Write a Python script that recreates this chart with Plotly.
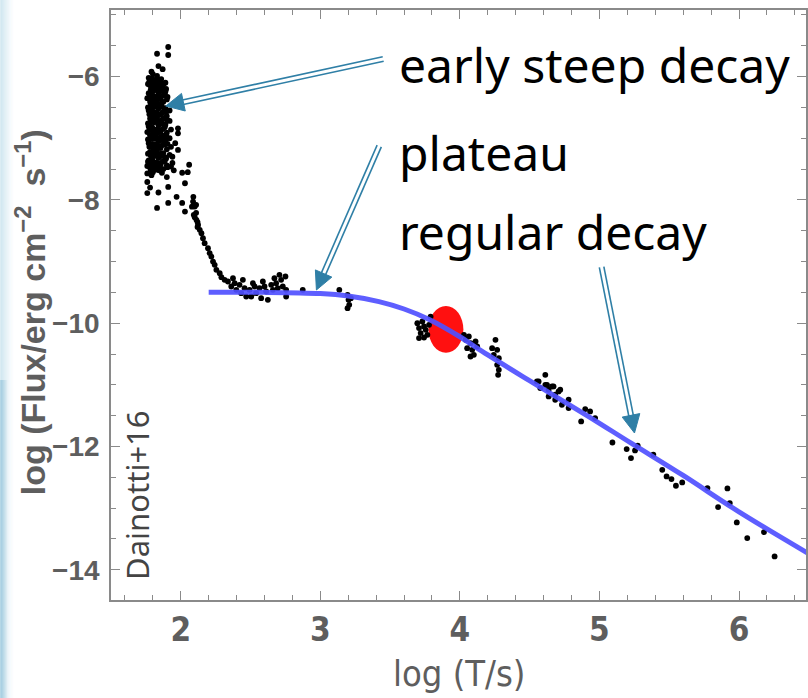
import plotly.graph_objects as go

# ---------------- data ----------------
# early steep decay (dense cluster + tail)
early_x = [1.91, 1.91, 1.83, 1.84, 1.79, 1.87,
           1.77, 1.78, 1.77, 1.78, 1.77, 1.78, 1.77, 1.78, 1.77, 1.78, 1.77, 1.78,
           1.80, 1.80, 1.81, 1.80, 1.81, 1.80, 1.81, 1.80, 1.81, 1.80, 1.81, 1.80, 1.80,
           1.83, 1.83, 1.84, 1.83, 1.84, 1.83, 1.84, 1.83, 1.84, 1.83, 1.84, 1.83,
           1.86, 1.86, 1.87, 1.86, 1.87, 1.86, 1.87, 1.86, 1.87, 1.86, 1.87,
           1.89, 1.89, 1.90, 1.89, 1.90, 1.89, 1.90, 1.89, 1.90, 1.89, 1.90,
           1.92, 1.92, 1.93, 1.92, 1.93, 1.92, 1.94, 1.95,
           1.76, 1.76, 1.76, 1.79, 1.82, 1.85, 1.88, 1.82, 1.85, 1.79,
           1.98, 1.98, 2.06, 2.05, 1.98, 1.96, 1.94, 2.01, 2.03, 1.93, 1.90, 1.91,
           1.97, 2.01, 2.08, 2.10, 2.12, 1.76, 1.76, 1.78, 1.76, 1.84, 1.83, 1.91,
           2.03, 2.09, 2.11, 2.11, 2.12,
           1.775, 1.785, 1.775, 1.785, 1.775, 1.785, 1.775, 1.785, 1.775, 1.785, 1.775, 1.785,
           1.795, 1.805, 1.795, 1.805, 1.795, 1.805, 1.795, 1.805, 1.795, 1.805, 1.795, 1.805,
           1.815, 1.825, 1.815, 1.825, 1.815, 1.825, 1.815, 1.825, 1.815, 1.825, 1.815, 1.825,
           1.835, 1.845, 1.835, 1.845, 1.835, 1.845, 1.835, 1.845, 1.835, 1.845, 1.835, 1.845,
           1.855, 1.865, 1.855, 1.865, 1.855, 1.865, 1.855, 1.865, 1.855, 1.865, 1.855, 1.865,
           1.875, 1.885, 1.875, 1.885, 1.875, 1.885, 1.875, 1.885, 1.875, 1.885, 1.875,
           1.895, 1.905, 1.895, 1.905, 1.895, 1.905, 1.895, 1.905,
           1.765, 1.765, 1.765, 1.765, 1.765, 1.765]
early_y = [-5.52, -5.65, -5.63, -5.83, -5.92, -5.88,
           -6.02, -6.14, -6.27, -6.41, -6.55, -6.68, -6.81, -6.95, -7.08, -7.22, -7.36, -7.48,
           -5.96, -6.09, -6.22, -6.35, -6.49, -6.62, -6.74, -6.88, -7.01, -7.15, -7.29, -7.42, -7.55,
           -5.99, -6.12, -6.26, -6.39, -6.52, -6.66, -6.79, -6.92, -7.05, -7.19, -7.32, -7.45,
           -6.04, -6.17, -6.31, -6.44, -6.58, -6.71, -6.85, -6.98, -7.11, -7.25, -7.38,
           -6.10, -6.24, -6.37, -6.51, -6.64, -6.78, -6.91, -7.04, -7.18, -7.31, -7.44,
           -6.55, -6.72, -6.86, -7.00, -7.14, -7.27, -7.40, -7.52,
           -6.35, -6.90, -7.45, -6.47, -6.58, -6.90, -6.67, -7.10, -7.50, -7.60,
           -6.84, -6.92, -7.43, -7.55, -7.19, -7.08, -7.30, -7.56, -7.73, -7.46, -7.63, -7.79,
           -7.95, -8.05, -8.11, -8.28, -8.44, -7.57, -7.71, -7.80, -7.89, -7.88, -8.13, -8.05,
           -8.19, -7.95, -8.08, -8.21, -8.36,
           -6.08, -6.21, -6.34, -6.47, -6.61, -6.74, -6.87, -7.01, -7.14, -7.28, -7.41, -7.53,
           -6.03, -6.16, -6.29, -6.42, -6.55, -6.69, -6.82, -6.95, -7.09, -7.22, -7.35, -7.48,
           -6.06, -6.19, -6.32, -6.46, -6.59, -6.72, -6.86, -6.99, -7.12, -7.26, -7.39, -7.51,
           -6.05, -6.18, -6.33, -6.46, -6.60, -6.73, -6.86, -7.00, -7.13, -7.26, -7.40, -7.52,
           -6.09, -6.22, -6.36, -6.49, -6.62, -6.76, -6.89, -7.03, -7.16, -7.29, -7.43, -7.56,
           -6.13, -6.27, -6.41, -6.54, -6.69, -6.82, -6.96, -7.10, -7.24, -7.37, -7.50,
           -6.20, -6.33, -6.58, -6.71, -6.96, -7.09, -7.33, -7.47,
           -6.12, -6.50, -6.76, -7.02, -7.25, -7.38]

# steep decay into the plateau
plateau_x = [2.088, 2.100, 2.093, 2.112, 2.124, 2.136, 2.148, 2.159, 2.171, 2.195,
             2.207, 2.219, 2.231, 2.243, 2.255, 2.279, 2.291, 2.314,
             2.338, 2.362, 2.386, 2.398, 2.421, 2.433, 2.457, 2.469, 2.493, 2.505,
             2.529, 2.540, 2.564, 2.576, 2.600, 2.612, 2.624, 2.648, 2.660, 2.683,
             2.695, 2.719, 2.731, 2.755, 2.755, 2.750, 2.374, 2.445, 2.517, 2.588,
             2.671, 2.707, 2.874, 3.136, 3.195, 3.202, 3.207, 3.195, 3.219]
plateau_y = [-8.027, -8.108, -8.243, -8.324, -8.405, -8.486, -8.540, -8.621, -8.702, -8.783,
             -8.864, -8.919, -9.000, -9.053, -9.134, -9.188, -9.253, -9.297,
             -9.324, -9.405, -9.351, -9.459, -9.378, -9.513, -9.432, -9.567, -9.459, -9.567,
             -9.405, -9.513, -9.432, -9.594, -9.405, -9.486, -9.621, -9.378, -9.459, -9.351,
             -9.432, -9.297, -9.405, -9.459, -9.567, -9.243, -9.270, -9.297, -9.351, -9.324,
             -9.270, -9.216, -9.459, -9.459, -9.540, -9.621, -9.702, -9.756, -9.594]

# regular decay
decay_x = [3.695, 3.707, 3.731, 3.743, 3.719, 3.755, 3.767, 3.779, 3.707, 3.743, 3.790,
           4.029, 4.041, 4.064, 4.076, 4.052, 4.088, 4.100, 4.112, 4.124, 4.076,
           4.255, 4.231, 4.267, 4.243, 4.279, 4.267, 4.279, 4.274,
           4.612, 4.552, 4.576, 4.612, 4.636, 4.660, 4.683, 4.707,
           4.564, 4.624, 4.671, 4.719, 4.636, 4.683, 4.731, 4.779, 4.779,
           4.898, 4.933, 4.969, 4.869, 5.093, 5.195, 5.226, 5.255, 5.274, 5.386,
           5.450, 5.481, 5.516, 5.548, 5.593, 5.774, 5.917, 5.934, 5.850, 5.984,
           6.059, 6.179, 6.255]
decay_y = [-10.000, -10.080, -9.973, -10.054, -10.161, -10.108, -10.189, -10.027, -10.242, -10.232, -9.892,
           -10.189, -10.270, -10.216, -10.324, -10.405, -10.432, -10.513, -10.297, -10.378, -10.540,
           -10.270, -10.405, -10.432, -10.513, -10.567, -10.675, -10.756, -10.837,
           -10.837, -10.945, -11.053, -10.999, -11.080, -11.026, -11.161, -11.107,
           -10.945, -10.999, -11.026, -11.080, -11.188, -11.242, -11.323, -11.242, -11.377,
           -11.393, -11.432, -11.539, -11.594, -11.935, -12.042, -12.188, -12.064, -11.988, -12.134,
           -12.378, -12.486, -12.528, -12.637, -12.583, -12.674, -12.680, -12.918, -12.983, -13.232,
           -13.485, -13.388, -13.783]

# fitted model curve
curve_x = [2.20, 2.60, 3.00, 3.20, 3.42, 3.60, 3.78, 4.00, 4.14, 4.49, 4.92, 5.23, 5.60, 6.00, 6.50]
curve_y = [-9.50, -9.50, -9.52, -9.56, -9.65, -9.77, -9.94, -10.22, -10.43, -10.92, -11.51, -11.95, -12.47, -13.06, -13.74]

# end of plateau (red ellipse)
end_x = [3.90]
end_y = [-10.10]
end_halfwidth = [0.125]
end_halfheight = [0.38]

x_tick_vals = [2, 3, 4, 5, 6]
y_tick_vals = [-14, -12, -10, -8, -6]

labels = ["early steep decay", "plateau", "regular decay"]

# ---------------- layout geometry ----------------
W, H = 808, 698
ML, MR, MT, MB = 111, 0, 10, 98
XR = [1.5, 6.48]
YR = [-14.49, -4.92]
PW, PH = W - ML - MR, H - MT - MB
SX = PW / (XR[1] - XR[0])
SY = PH / (YR[1] - YR[0])


def p2d(px, py):
    return XR[0] + (px - ML) / SX, YR[1] - (py - MT) / SY


def ppx(px):
    return (px - ML) / PW


def ppy(py):
    return (H - MB - py) / PH


AXC = "#8a8a8a"
TXC = "#5e5e5e"
ARC = "#2f7fa6"
NARROW = "DejaVu Sans Condensed, Liberation Sans Narrow, Arial Narrow"

fig = go.Figure()

obs_x = early_x + plateau_x + decay_x
obs_y = early_y + plateau_y + decay_y
fig.add_trace(go.Scatter(x=obs_x, y=obs_y, mode="markers",
                         marker=dict(color="black", size=5.8, line=dict(width=0)),
                         hoverinfo="skip", showlegend=False))
fig.add_trace(go.Scatter(x=curve_x, y=curve_y, mode="lines",
                         line=dict(color="rgba(80,80,255,0.92)", width=5, shape="spline"),
                         hoverinfo="skip", showlegend=False))

shapes = []
# red ellipse at end of plateau
shapes.append(dict(type="circle", xref="x", yref="y", layer="below",
                   x0=end_x[0] - end_halfwidth[0], x1=end_x[0] + end_halfwidth[0],
                   y0=end_y[0] - end_halfheight[0], y1=end_y[0] + end_halfheight[0],
                   fillcolor="#ff1010", line=dict(width=0)))

# double-line arrows (tail pixel, tip pixel)
arrows = [((384, 59), (166, 106)),
          ((380, 146), (317, 290)),
          ((603, 267), (636, 433))]
for (tx, ty), (hx, hy) in arrows:
    dx, dy = hx - tx, hy - ty
    L = (dx * dx + dy * dy) ** 0.5
    ux, uy = dx / L, dy / L
    nx, ny = -uy, ux
    hl, hw, gap = 18, 9, 2.3
    bx, by = hx - ux * hl, hy - uy * hl
    for s in (1, -1):
        x0, y0 = p2d(tx + s * nx * gap, ty + s * ny * gap)
        x1, y1 = p2d(bx + ux * 3 + s * nx * gap, by + uy * 3 + s * ny * gap)
        shapes.append(dict(type="line", xref="x", yref="y", layer="above",
                           x0=x0, y0=y0, x1=x1, y1=y1,
                           line=dict(color=ARC, width=1.6)))
    p1 = p2d(hx, hy)
    p2 = p2d(bx + nx * hw, by + ny * hw)
    p3 = p2d(bx - nx * hw, by - ny * hw)
    path = "M %f,%f L %f,%f L %f,%f Z" % (p1[0], p1[1], p2[0], p2[1], p3[0], p3[1])
    shapes.append(dict(type="path", xref="x", yref="y", layer="above", path=path,
                       fillcolor=ARC, line=dict(color=ARC, width=1)))

# light blue strip on the far left edge
for i in range(14):
    a = 0.5 * (1 - i / 14) ** 1.5
    shapes.append(dict(type="rect", xref="paper", yref="paper", layer="below",
                       x0=ppx(i), x1=ppx(i + 1), y0=ppy(H), y1=ppy(0),
                       fillcolor="rgba(150,200,222,%.3f)" % a, line=dict(width=0)))
for i in range(7):
    a = 0.5 * (1 - i / 7)
    shapes.append(dict(type="rect", xref="paper", yref="paper", layer="below",
                       x0=ppx(i), x1=ppx(i + 1), y0=ppy(H), y1=ppy(380),
                       fillcolor="rgba(110,175,205,%.3f)" % a, line=dict(width=0)))

annotations = []
TXT_FONT = "Noto Sans, Open Sans, DejaVu Sans"
for lab, (px, py) in zip(labels, [(398, 64), (398, 152), (398, 231)]):
    annotations.append(dict(text=lab, xref="paper", yref="paper", x=ppx(px), y=ppy(py),
                            xanchor="left", yanchor="middle", showarrow=False,
                            font=dict(family=TXT_FONT, size=48, color="black")))
annotations.append(dict(text="Dainotti+16", xref="paper", yref="paper",
                        x=ppx(137), y=ppy(495), textangle=-90, showarrow=False,
                        xanchor="center", yanchor="middle",
                        font=dict(family=TXT_FONT, size=31, color="#444444")))
annotations.append(dict(text="log (Flux/erg cm<sup>−2</sup>  s<sup>−1</sup>)",
                        xref="paper", yref="paper", x=ppx(31), y=ppy(312),
                        textangle=-90, showarrow=False, xanchor="center", yanchor="middle",
                        font=dict(family="Liberation Sans, Arial", size=34, color=TXC,
                                  weight="bold")))
annotations.append(dict(text="log (T/s)", xref="paper", yref="paper",
                        x=ppx(461), y=ppy(673), showarrow=False,
                        xanchor="center", yanchor="middle",
                        font=dict(family=NARROW, size=36, color=TXC)))

fig.update_layout(
    width=W, height=H,
    margin=dict(l=ML, r=MR, t=MT, b=MB, pad=0),
    paper_bgcolor="white", plot_bgcolor="white",
    shapes=shapes, annotations=annotations, showlegend=False,
    xaxis=dict(range=XR, tickvals=x_tick_vals, ticks="inside", ticklen=9, tickwidth=1.3,
               tickcolor=AXC, showline=True, linecolor=AXC, linewidth=1.6, mirror="ticks",
               showgrid=False, zeroline=False,
               tickfont=dict(family=NARROW, size=33, color=TXC, weight="bold"),
               ticklabelstandoff=0,
               minor=dict(dtick=0.2, tick0=0, ticks="inside", ticklen=5, tickwidth=1.2,
                          tickcolor=AXC, showgrid=False)),
    yaxis=dict(range=YR, tickvals=y_tick_vals, ticks="inside", ticklen=9, tickwidth=1.3,
               tickcolor=AXC, showline=True, linecolor=AXC, linewidth=1.6, mirror="ticks",
               showgrid=False, zeroline=False,
               tickfont=dict(family="Liberation Sans, Arial", size=28, color=TXC, weight="bold"),
               ticklabelstandoff=4,
               minor=dict(dtick=0.5, tick0=0, ticks="inside", ticklen=5, tickwidth=1.2,
                          tickcolor=AXC, showgrid=False)),
)

fig.write_html("out.html")
